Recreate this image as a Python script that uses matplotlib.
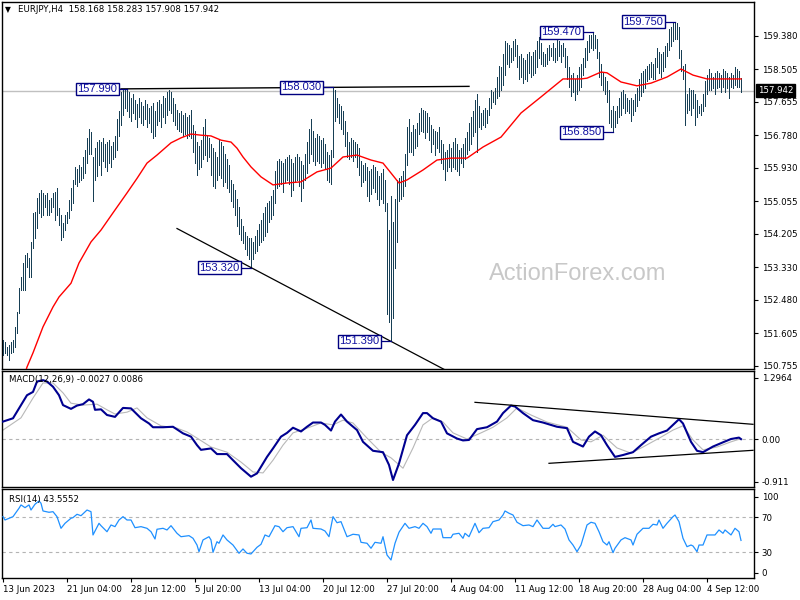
import matplotlib
matplotlib.use("Agg")
import matplotlib.pyplot as plt
import matplotlib.transforms as mtransforms

# ---------------- data ----------------
highs = [
    151.43, 151.37, 151.24, 151.30, 151.37, 151.43, 151.77, 152.16, 152.79, 153.07,
    153.44, 153.65, 153.70, 153.57, 153.99, 154.75, 154.77, 155.14, 155.27, 155.35,
    155.27, 155.22, 155.27, 155.09, 155.14, 155.27, 155.29, 155.40, 154.88, 154.69,
    154.48, 154.69, 154.77, 155.09, 155.40, 155.61, 155.95, 155.90, 156.00, 155.95,
    156.20, 156.40, 156.70, 156.95, 156.85, 156.20, 156.45, 156.60, 156.65, 156.60,
    156.70, 156.55, 156.60, 156.65, 156.50, 156.60, 156.75, 157.20, 157.40, 157.90,
    157.95, 157.95, 157.99, 157.90, 157.75, 157.85, 157.70, 157.60, 157.75, 157.65,
    157.55, 157.70, 157.60, 157.50, 157.55, 157.62, 157.40, 157.65, 157.70, 157.60,
    157.80, 157.75, 157.90, 157.95, 157.90, 157.75, 157.60, 157.45, 157.35, 157.40,
    157.30, 157.35, 157.25, 157.30, 157.45, 157.05, 156.90, 156.60, 156.50, 156.65,
    157.00, 157.20, 156.75, 156.70, 156.55, 156.45, 156.35, 156.20, 156.65, 156.60,
    156.50, 156.30, 156.15, 156.00, 155.60, 155.50, 155.35, 155.10, 154.90, 154.60,
    154.40, 154.25, 154.15, 154.10, 154.10, 154.00, 154.15, 154.30, 154.45, 154.55,
    154.75, 154.90, 155.00, 155.05, 155.20, 155.35, 155.85, 156.10, 156.15, 156.10,
    156.05, 156.15, 156.20, 156.25, 156.15, 156.05, 156.20, 156.30, 156.20, 156.10,
    156.00, 156.30, 156.60, 156.95, 157.20, 156.90, 156.70, 156.80, 156.75, 156.65,
    156.70, 156.55, 156.35, 156.25, 156.40, 158.03, 157.95, 157.75, 157.60, 157.55,
    157.40, 157.15, 156.85, 156.60, 156.70, 156.65, 156.60, 156.55, 156.45, 156.10,
    156.00, 156.05, 155.95, 155.85, 155.90, 156.00, 155.95, 155.85, 155.70, 155.80,
    155.90, 155.60, 155.00, 154.30, 155.20, 154.50, 155.10, 155.60, 155.65, 155.70,
    155.85, 156.30, 157.00, 157.20, 156.85, 157.05, 156.95, 157.10, 157.35, 157.50,
    157.45, 157.40, 157.35, 157.25, 157.05, 156.95, 156.90, 156.85, 157.00, 156.65,
    156.55, 156.35, 156.40, 156.55, 156.45, 156.60, 156.70, 156.55, 156.40, 156.45,
    156.55, 156.70, 156.85, 157.10, 157.25, 157.40, 157.70, 157.85, 157.55, 157.35,
    157.45, 157.50, 157.45, 157.75, 157.95, 157.90, 158.00, 158.30, 158.60, 158.55,
    158.90, 159.25, 159.20, 159.15, 159.05, 159.25, 159.30, 159.15, 158.85, 158.90,
    158.80, 158.75, 158.90, 158.95, 158.85, 158.95, 159.00, 159.25, 159.35, 159.20,
    158.95, 158.90, 159.05, 159.15, 159.05, 159.20, 159.05, 159.30, 159.25, 159.15,
    159.20, 159.05, 158.85, 158.55, 158.35, 158.40, 158.25, 158.35, 158.55, 158.65,
    158.80, 159.05, 159.25, 159.40, 159.40, 159.47, 159.40, 159.30, 158.95, 158.65,
    158.40, 158.30, 158.20, 157.95, 157.45, 157.55, 157.40, 157.55, 157.75, 157.90,
    157.95, 157.85, 157.75, 157.70, 157.75, 157.70, 157.85, 158.00, 158.25, 158.40,
    158.45, 158.50, 158.60, 158.65, 158.70, 158.65, 158.80, 159.05, 158.95, 158.90,
    158.95, 159.10, 159.20, 159.55, 159.60, 159.70, 159.75, 159.70, 159.60, 159.00,
    158.60, 158.65, 157.85, 158.00, 157.95, 157.95, 157.85, 157.70, 157.55, 157.60,
    157.85, 158.20, 158.35, 158.50, 158.40, 158.30, 158.40, 158.45, 158.40, 158.35,
    158.50, 158.45, 158.40, 158.30, 158.40, 158.35, 158.55, 158.50, 158.45, 158.283,
]
lows = [
    151.04, 151.09, 151.04, 150.90, 151.09, 151.11, 151.24, 151.61, 152.13, 152.73,
    152.73, 152.73, 153.34, 153.07, 153.07, 153.83, 154.09, 154.35, 154.75, 154.64,
    154.69, 154.90, 154.69, 154.69, 154.77, 154.90, 154.56, 154.69, 154.43, 154.04,
    154.12, 154.30, 154.48, 154.61, 154.82, 155.01, 155.50, 155.45, 155.55, 155.60,
    155.65, 155.80, 156.05, 156.30, 156.30, 155.05, 155.60, 155.70, 156.00, 155.75,
    156.10, 155.95, 155.85, 156.05, 155.95, 156.15, 156.20, 156.40, 156.75, 157.05,
    157.30, 157.50, 157.40, 157.25, 157.15, 157.35, 157.20, 157.00, 157.25, 157.10,
    157.05, 157.20, 157.00, 157.10, 156.85, 156.70, 156.75, 157.05, 157.15, 157.00,
    157.25, 157.10, 157.30, 157.45, 157.35, 157.15, 157.05, 156.95, 156.90, 156.85,
    156.75, 156.80, 156.70, 156.75, 156.70, 156.35, 156.05, 155.75, 155.90, 155.95,
    156.15, 156.25, 156.10, 156.20, 155.75, 155.45, 155.40, 155.60, 155.75, 155.65,
    155.45, 155.55, 155.40, 155.30, 155.05, 154.90, 154.70, 154.40, 154.20, 154.05,
    153.95, 153.80, 153.65, 153.55, 153.32, 153.55, 153.70, 153.75, 153.90, 154.00,
    154.05, 154.15, 154.25, 154.50, 154.60, 154.70, 155.00, 155.40, 155.45, 155.50,
    155.30, 155.55, 155.60, 155.50, 155.20, 155.35, 155.55, 155.60, 155.45, 155.05,
    155.40, 155.60, 155.80, 156.05, 156.30, 156.10, 156.00, 156.10, 156.05, 155.95,
    156.05, 155.90, 155.60, 155.55, 155.50, 156.20, 157.15, 157.25, 157.10, 156.95,
    156.80, 156.50, 156.20, 156.15, 156.20, 156.10, 156.20, 155.95, 155.75, 155.45,
    155.55, 155.60, 155.20, 155.05, 155.25, 155.40, 155.30, 155.10, 154.95, 155.10,
    155.00, 154.80, 152.10, 151.90, 151.39, 152.00, 153.30, 154.00, 155.05, 155.10,
    155.20, 155.45, 156.00, 156.35, 156.35, 156.25, 156.45, 156.50, 156.80, 156.90,
    156.85, 156.70, 156.85, 156.65, 156.35, 156.55, 156.25, 156.45, 156.35, 156.05,
    155.90, 155.60, 155.85, 155.95, 155.85, 155.95, 155.90, 155.85, 155.75, 156.05,
    155.95, 156.15, 156.30, 156.40, 156.55, 156.75, 156.85, 156.35, 157.00, 156.95,
    157.05, 157.00, 157.10, 157.30, 157.50, 157.65, 157.60, 157.75, 157.80, 157.95,
    158.10, 158.35, 158.65, 158.55, 158.70, 158.75, 158.85, 158.55, 158.25, 158.30,
    158.15, 158.25, 158.20, 158.40, 158.30, 158.35, 158.40, 158.55, 158.80, 158.65,
    158.60, 158.60, 158.65, 158.75, 158.85, 158.75, 158.70, 158.75, 158.85, 158.70,
    158.85, 158.55, 158.25, 158.05, 157.80, 157.90, 157.70, 157.85, 157.95, 158.05,
    158.35, 158.55, 158.75, 158.95, 159.05, 159.00, 159.05, 158.80, 158.30, 158.10,
    157.95, 157.85, 157.65, 157.10, 157.00, 156.85, 157.00, 157.10, 157.25, 157.30,
    157.50, 157.35, 157.40, 157.35, 157.15, 157.30, 157.40, 157.55, 157.70, 157.80,
    157.90, 158.00, 158.20, 158.25, 158.30, 158.25, 158.25, 158.55, 158.40, 158.30,
    158.45, 158.55, 158.85, 159.00, 159.10, 159.25, 159.30, 159.30, 158.80, 158.45,
    158.25, 157.05, 157.35, 157.45, 157.30, 157.50, 157.05, 157.25, 157.35, 157.30,
    157.40, 157.55, 157.85, 157.95, 157.95, 158.00, 157.85, 158.00, 158.05, 157.90,
    158.05, 157.90, 158.00, 157.75, 158.05, 158.00, 158.10, 158.05, 158.05, 157.908,
]

ma_bars = [11, 12, 15, 20, 25, 28, 34, 38, 44, 49, 55, 62, 67, 72, 77, 84, 89, 94, 99,
           104, 109, 114, 117, 120, 124, 129, 135, 142, 149, 157, 164, 170, 177, 184,
           190, 194, 198, 202, 210, 217, 224, 232, 240, 249, 259, 269, 280, 289, 292,
           299, 302, 309, 317, 324, 332, 339, 345, 352, 369]
ma_vals = [150.55, 150.72, 151.09, 151.77, 152.29, 152.55, 152.91, 153.44, 153.99,
           154.30, 154.75, 155.27, 155.65, 156.05, 156.26, 156.58, 156.71, 156.81,
           156.78, 156.76, 156.65, 156.60, 156.44, 156.21, 155.95, 155.69, 155.48,
           155.53, 155.56, 155.82, 155.92, 156.21, 156.26, 156.13, 156.05, 155.79,
           155.53, 155.61, 155.87, 156.13, 156.18, 156.18, 156.47, 156.73, 157.36,
           157.78, 158.25, 158.25, 158.27, 158.43, 158.41, 158.17, 158.07, 158.14,
           158.30, 158.51, 158.35, 158.25, 158.25]

macd_bars = [0, 5, 9, 12, 15, 17, 20, 22, 25, 28, 30, 34, 37, 40, 43, 45, 46, 49, 52,
             56, 60, 64, 69, 73, 75, 80, 85, 90, 94, 97, 99, 104, 107, 112, 115, 119,
             124, 127, 132, 135, 139, 142, 145, 149, 152, 155, 159, 161, 164, 166,
             169, 172, 177, 180, 185, 190, 193, 195, 198, 202, 206, 210, 212, 215,
             219, 222, 227, 230, 233, 237, 242, 247, 250, 254, 256, 260, 265, 270,
             277, 282, 285, 290, 293, 296, 299, 302, 306, 310, 315, 319, 324, 328,
             332, 335, 338, 340, 344, 347, 350, 355, 360, 364, 368, 369]
macd_vals = [0.37, 0.44, 0.72, 0.93, 1.00, 1.22, 1.25, 1.22, 1.11, 0.93, 0.72, 0.64,
             0.71, 0.74, 0.84, 0.79, 0.62, 0.63, 0.51, 0.47, 0.66, 0.65, 0.44, 0.33,
             0.25, 0.25, 0.26, 0.12, 0.05, -0.13, -0.23, -0.20, -0.32, -0.32, -0.45,
             -0.62, -0.80, -0.73, -0.38, -0.20, 0.05, 0.13, 0.24, 0.16, 0.26, 0.35,
             0.35, 0.30, 0.18, 0.37, 0.52, 0.37, 0.19, -0.06, -0.25, -0.28, -0.55,
             -0.87, -0.52, 0.08, 0.30, 0.55, 0.55, 0.44, 0.37, 0.12, 0.01, -0.03,
             -0.02, 0.21, 0.25, 0.37, 0.55, 0.71, 0.69, 0.55, 0.40, 0.35, 0.26, 0.23,
             -0.06, -0.16, 0.05, 0.16, 0.08, -0.13, -0.38, -0.34, -0.28, -0.13, 0.05,
             0.12, 0.18, 0.30, 0.42, 0.33, -0.06, -0.25, -0.28, -0.16, -0.07, 0.00,
             0.03, -0.0027]

signal_bars = [0, 9, 15, 20, 25, 30, 34, 40, 47, 52, 56, 62, 67, 72, 79, 87, 92, 97,
               104, 112, 119, 125, 130, 135, 140, 145, 152, 159, 165, 170, 175, 182,
               189, 194, 200, 205, 210, 215, 220, 225, 232, 239, 245, 252, 257, 264,
               272, 282, 289, 294, 300, 307, 314, 320, 329, 335, 340, 345, 350, 357,
               364, 369]
signal_vals = [0.19, 0.45, 0.87, 1.19, 1.19, 0.98, 0.76, 0.72, 0.74, 0.62, 0.53, 0.57,
               0.66, 0.45, 0.28, 0.23, 0.15, 0.02, -0.17, -0.28, -0.49, -0.70, -0.72,
               -0.45, -0.13, 0.13, 0.23, 0.34, 0.30, 0.40, 0.34, 0.02, -0.28, -0.40,
               -0.62, -0.19, 0.30, 0.45, 0.36, 0.13, 0.00, 0.13, 0.25, 0.45, 0.66,
               0.51, 0.36, 0.25, -0.02, -0.06, 0.08, -0.19, -0.30, -0.17, 0.04, 0.19,
               0.28, -0.02, -0.23, -0.17, -0.06, 0.0086]

rsi_bars = [0, 1, 5, 8, 9, 11, 13, 14, 16, 18, 19, 20, 23, 25, 27, 29, 31, 34, 35, 37,
            39, 42, 44, 45, 48, 49, 52, 54, 56, 58, 60, 62, 64, 66, 69, 72, 74, 76, 77,
            80, 82, 84, 87, 89, 93, 95, 97, 98, 100, 103, 104, 105, 107, 108, 110, 112,
            115, 118, 120, 122, 124, 127, 129, 131, 133, 136, 138, 140, 142, 145, 148,
            149, 152, 154, 155, 159, 161, 163, 165, 167, 169, 172, 175, 178, 179, 182,
            184, 186, 189, 190, 192, 194, 196, 198, 201, 203, 206, 208, 210, 212, 214,
            215, 219, 220, 224, 225, 228, 230, 231, 233, 236, 238, 240, 243, 245, 248,
            250, 251, 253, 255, 257, 260, 263, 265, 267, 270, 273, 275, 276, 279, 281,
            283, 285, 287, 289, 290, 292, 294, 296, 298, 300, 302, 303, 305, 306, 309,
            311, 314, 315, 317, 320, 323, 325, 327, 328, 330, 332, 335, 336, 338, 340,
            342, 344, 345, 347, 348, 350, 352, 356, 358, 360, 361, 364, 366, 368, 369]
rsi_vals = [70.7, 66.9, 70.7, 80.3, 84.1, 81.0, 84.1, 78.3, 84.9, 88.6, 86.0, 77.2,
            75.7, 76.4, 70.7, 57.4, 63.1, 68.9, 69.6, 73.4, 71.8, 78.3, 76.4, 49.8,
            63.1, 60.4, 53.5, 61.2, 59.3, 66.9, 70.7, 66.9, 66.9, 58.1, 59.3, 57.4,
            53.5, 45.2, 56.3, 57.4, 55.5, 60.4, 51.7, 47.8, 49.0, 46.0, 38.3, 30.7,
            44.1, 47.8, 44.1, 30.0, 42.1, 40.3, 49.8, 44.1, 38.3, 28.9, 33.8, 28.9,
            28.1, 35.7, 39.1, 49.8, 47.8, 60.4, 59.3, 53.5, 58.1, 59.3, 47.8, 57.4,
            58.1, 66.9, 57.4, 56.6, 54.3, 47.8, 70.7, 63.8, 65.0, 47.8, 50.6, 49.8,
            41.4, 40.3, 34.6, 41.4, 40.3, 47.8, 26.9, 21.2, 40.3, 52.9, 63.1, 57.4,
            59.3, 57.4, 63.1, 59.3, 51.7, 56.6, 56.6, 46.7, 46.7, 50.6, 51.7, 46.0,
            51.7, 47.8, 63.1, 52.4, 57.4, 58.1, 65.0, 66.9, 72.6, 77.2, 74.6, 72.6,
            64.3, 60.4, 61.2, 59.3, 66.9, 57.4, 57.4, 62.0, 59.3, 61.2, 56.6, 44.1,
            38.3, 30.7, 38.3, 46.0, 61.2, 64.3, 63.1, 53.5, 42.1, 38.3, 42.1, 29.6,
            34.6, 44.1, 46.7, 44.1, 38.3, 50.6, 57.4, 57.4, 62.0, 61.2, 66.9, 57.4,
            63.1, 70.7, 72.6, 65.0, 46.0, 36.4, 38.3, 37.2, 30.7, 38.3, 38.3, 49.8,
            49.8, 55.5, 51.7, 55.5, 49.8, 57.4, 53.5, 43.5552]

time_tick_bars = [0, 32, 64, 96, 128, 160, 192, 224, 256, 288, 320, 352]
time_tick_labels = ["13 Jun 2023", "21 Jun 04:00", "28 Jun 12:00", "5 Jul 20:00",
                    "13 Jul 04:00", "20 Jul 12:00", "27 Jul 20:00", "4 Aug 04:00",
                    "11 Aug 12:00", "18 Aug 20:00", "28 Aug 04:00", "4 Sep 12:00"]
price_ticks = [159.380, 158.505, 157.655, 156.780, 155.930, 155.055, 154.205,
               153.330, 152.480, 151.605, 150.755]
macd_ticks = [1.2964, 0.0, -0.911]
macd_tick_labels = ["1.2964", "0.00", "-0.911"]
last_price = 157.942
header = "EURJPY,H4  158.168 158.283 157.908 157.942"

pivot_bars = [62, 165, 124, 194, 295, 305, 336]
pivot_prices = [157.990, 158.030, 153.320, 151.390, 159.470, 156.850, 159.750]
pivot_gaps = [4, 5, 5, 5, 5, 5, 5]

resist_bars = [59, 165]
resist_prices = [157.99, 158.03]
resist_end_bar = 233
support_bars = [124, 194]
support_prices = [153.32, 151.39]
macd_upper_bars = [236, 375]
macd_upper_vals = [0.779, 0.312]
macd_lower_bars = [273, 375]
macd_lower_vals = [-0.516, -0.240]

# ---------------- figure ----------------
BAR_C = "#173f55"
NAVY = "#000080"
W, H = 800, 600
fig = plt.figure(figsize=(8, 6), dpi=100)
fig.patch.set_facecolor("white")


def rect(top, bottom, left=2, right=754):
    return [left / W, 1 - bottom / H, (right - left) / W, (bottom - top) / H]


ax = fig.add_axes(rect(2, 369))
axm = fig.add_axes(rect(371, 487))
axr = fig.add_axes(rect(489, 578))

XL = (-0.5, 375.5)
for a in (ax, axm, axr):
    a.set_xlim(*XL)
    for s in a.spines.values():
        s.set_color("black")
        s.set_linewidth(1.0)
    a.yaxis.tick_right()
    a.tick_params(axis="y", direction="out", length=3, width=0.8, pad=2.5,
                  labelsize=6.2, colors="black")
    a.set_xticks([])

# ---- price panel ----
ax.set_ylim(150.668, 160.261)
n = len(highs)
idx = list(range(n))
ax.axhline(last_price, color="#c0c0c0", lw=1, zorder=1)
vl = ax.vlines(idx, lows, highs, color=BAR_C, lw=0.72, zorder=3)
vl.set_antialiased(False)
ax.plot(ma_bars, ma_vals, color="#ff0000", lw=1.0, zorder=4)

# near-horizontal resistance line (extended to end bar)
slope = (resist_prices[1] - resist_prices[0]) / (resist_bars[1] - resist_bars[0])
ax.plot([resist_bars[0], resist_end_bar],
        [resist_prices[0], resist_prices[0] + slope * (resist_end_bar - resist_bars[0])],
        color="black", lw=1.0, zorder=5)
# falling support line, extended both ways
s2 = (support_prices[1] - support_prices[0]) / (support_bars[1] - support_bars[0])
xs = [87, 230]
ax.plot(xs, [support_prices[0] + s2 * (x - support_bars[0]) for x in xs],
        color="black", lw=0.9, zorder=5)

for b, p, g in zip(pivot_bars, pivot_prices, pivot_gaps):
    ax.plot([b - g, b], [p, p], color=NAVY, lw=0.9, zorder=6)
    ax.text(b - g - 0.8, p, f"{p:.3f}", ha="right", va="center", fontsize=8,
            family="Liberation Sans", color="#1010a0", zorder=7,
            bbox=dict(boxstyle="square,pad=0.12", fc="white", ec=NAVY, lw=1.0))

ax.set_yticks(price_ticks)
ax.set_yticklabels([f"{t:.3f}" for t in price_ticks])

trans = mtransforms.blended_transform_factory(ax.transAxes, ax.transData)
ax.text(1.0 + 4 / 752, last_price, f"{last_price:.3f}", transform=trans, ha="left",
        va="center", fontsize=6.2, color="white", zorder=10,
        bbox=dict(boxstyle="square,pad=0.2", fc="black", ec="black"))

# watermark
ax.text(287.5, 153.15, "ActionForex.com", ha="center", va="center", fontsize=17,
        family="Liberation Sans", color="#c8c8c8", zorder=2)

fig.text(5 / W, 1 - 10 / H, "\u25BC", fontsize=5.5, va="center", ha="left")
fig.text(18 / W, 1 - 10 / H, header, fontsize=6.2, va="center", ha="left")

# ---- MACD panel ----
axm.set_ylim(-1.019, 1.444)
axm.axhline(0, color="#b4b4b4", lw=0.8, ls=(0, (3, 3)), zorder=1)
axm.plot(signal_bars, signal_vals, color="#b8b8b8", lw=0.8, zorder=2)
axm.plot(macd_bars, macd_vals, color="#000090", lw=1.5, zorder=3)
axm.plot(macd_upper_bars, macd_upper_vals, color="black", lw=0.9, zorder=4)
axm.plot(macd_lower_bars, macd_lower_vals, color="black", lw=0.9, zorder=4)
axm.set_yticks(macd_ticks)
axm.set_yticklabels(macd_tick_labels)
axm.text(7 / 752, 0.925, "MACD(12,26,9) -0.0027 0.0086", transform=axm.transAxes,
         fontsize=6.2, va="center", ha="left")

# ---- RSI panel ----
axr.set_ylim(0.63, 102.3)
for lv in (70, 30):
    axr.axhline(lv, color="#b4b4b4", lw=0.8, ls=(0, (3, 3)), zorder=1)
axr.plot(rsi_bars, rsi_vals, color="#1e90ff", lw=0.9, zorder=3)
axr.set_yticks([6.7, 30, 70, 93.5])
axr.set_yticklabels(["0", "30", "70", "100"])
axr.text(7 / 752, 0.885, "RSI(14) 43.5552", transform=axr.transAxes,
         fontsize=6.2, va="center", ha="left")
axr.set_xticks(time_tick_bars)
axr.set_xticklabels(time_tick_labels)
axr.tick_params(axis="x", direction="out", length=3, width=0.8, pad=2,
                labelsize=6.2)
for lab in axr.get_xticklabels():
    lab.set_ha("left")

fig.savefig("out.png", dpi=100, facecolor="white")
